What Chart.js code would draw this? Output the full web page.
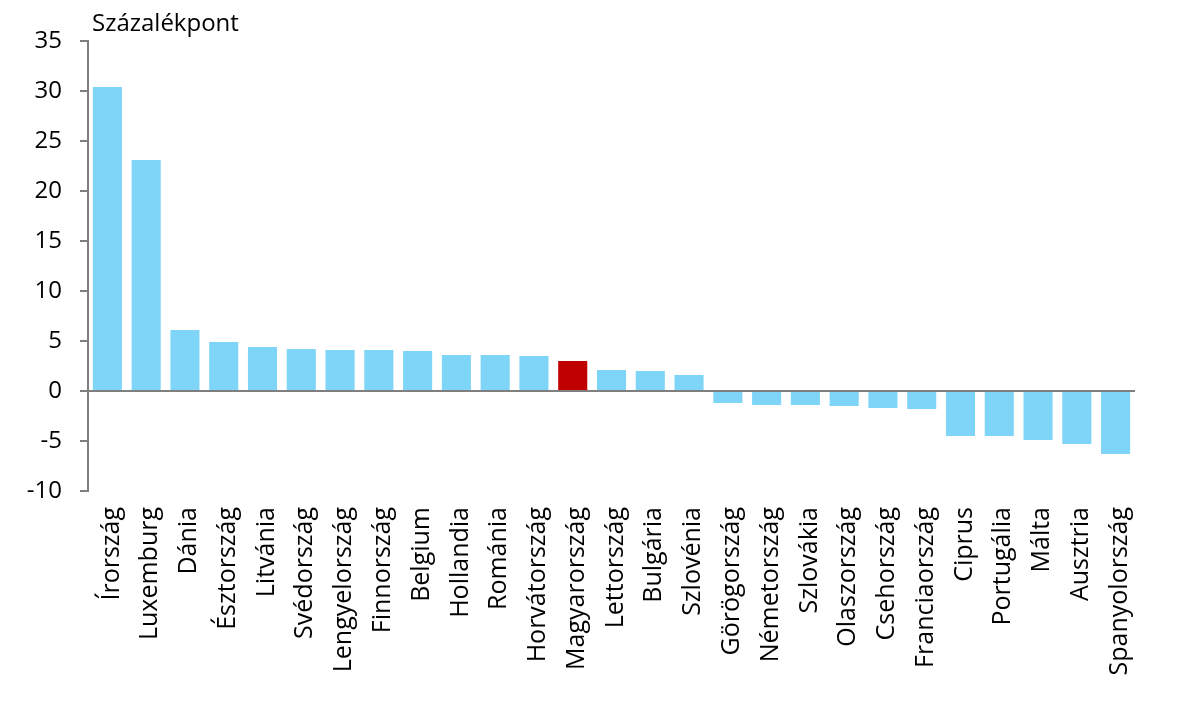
<!DOCTYPE html>
<html>
<head>
<meta charset="utf-8">
<script src="https://cdn.jsdelivr.net/npm/chart.js@4.4.1/dist/chart.umd.min.js"></script>
<style>
  html, body { margin: 0; padding: 0; background: #fff; }
  #wrap { width: 1181px; height: 705px; }
</style>
</head>
<body>
<div id="wrap"><canvas id="myChart" width="1181" height="705"></canvas></div>
<script>
const countries = ['Írország', 'Luxemburg', 'Dánia', 'Észtország', 'Litvánia', 'Svédország',
    'Lengyelország', 'Finnország', 'Belgium', 'Hollandia', 'Románia', 'Horvátország',
    'Magyarország', 'Lettország', 'Bulgária', 'Szlovénia', 'Görögország', 'Németország',
    'Szlovákia', 'Olaszország', 'Csehország', 'Franciaország', 'Ciprus', 'Portugália',
    'Málta', 'Ausztria', 'Spanyolország'];
const values = [30.4, 23.1, 6.1, 4.9, 4.4, 4.2, 4.1, 4.1, 4.0, 3.6, 3.6, 3.5,
    3.0, 2.1, 2.0, 1.6, -1.2, -1.4, -1.4, -1.5, -1.7, -1.8, -4.5, -4.5, -4.9, -5.3, -6.3];
const highlight = 'Magyarország';
const yTicks = [-10, -5, 0, 5, 10, 15, 20, 25, 30, 35];
const unitLabel = 'Százalékpont';

const FONT = '"Open Sans", "Noto Sans", sans-serif';
const AXIS_GREY = '#7f7f7f';

// Felirat a tengely tetején
const unitPlugin = {
    id: 'unitLabel',
    afterDraw(chart) {
        const c = chart.ctx;
        c.save();
        c.font = '24px ' + FONT;
        c.fillStyle = '#000';
        c.textBaseline = 'alphabetic';
        c.textAlign = 'left';
        c.fillText(unitLabel, chart.chartArea.left + 4, 31);
        c.restore();
    }
};

const ctx = document.getElementById('myChart').getContext('2d');
new Chart(ctx, {
    type: 'bar',
    data: {
        labels: countries,
        datasets: [{
            data: values,
            backgroundColor: countries.map(c => c === highlight ? '#c00000' : '#7fd5f7'),
            categoryPercentage: 1,
            barPercentage: 0.75
        }]
    },
    options: {
        responsive: false,
        animation: false,
        layout: { padding: { top: 41, right: 46, left: 0, bottom: 0 } },
        plugins: { legend: { display: false }, tooltip: { enabled: false } },
        scales: {
            x: {
                grid: { display: false, drawTicks: false },
                border: { display: false },
                ticks: {
                    color: '#000',
                    font: { family: FONT, size: 25 },
                    minRotation: 90, maxRotation: 90,
                    padding: 16,
                    labelOffset: 4,
                    autoSkip: false
                },
                afterFit(scale) { scale.height = 214; }
            },
            y: {
                min: -10, max: 35,
                afterBuildTicks(scale) { scale.ticks = yTicks.map(v => ({ value: v })); },
                grid: {
                    color: c => c.tick && c.tick.value === 0 ? AXIS_GREY : 'rgba(0,0,0,0)',
                    lineWidth: 2,
                    tickColor: AXIS_GREY,
                    tickLength: 8,
                    tickWidth: 2
                },
                border: { color: AXIS_GREY, width: 2 },
                ticks: {
                    color: '#000',
                    font: { family: FONT, size: 24 },
                    padding: 18
                },
                afterFit(scale) { scale.width = 88; }
            }
        }
    },
    plugins: [unitPlugin]
});
</script>
</body>
</html>
